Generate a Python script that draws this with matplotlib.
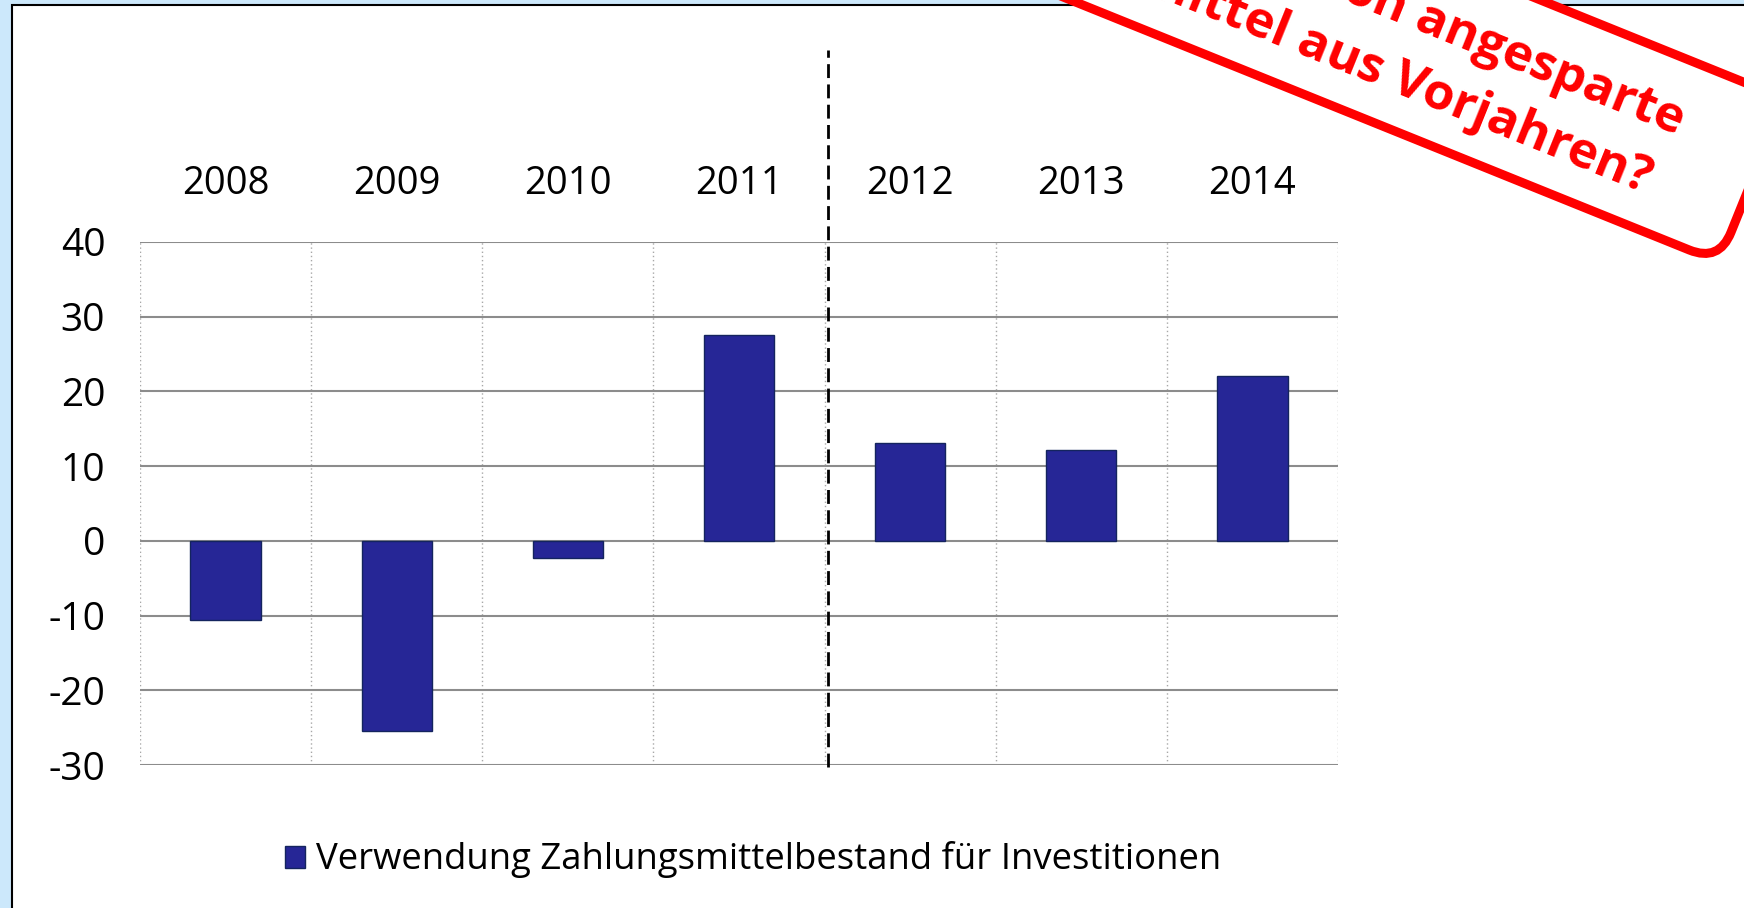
import matplotlib
matplotlib.use("Agg")
import matplotlib.pyplot as plt
from matplotlib.patches import Rectangle, FancyBboxPatch
from matplotlib.transforms import Affine2D

# ---- data ----
years = ["2008", "2009", "2010", "2011", "2012", "2013", "2014"]
values = [-10.6, -25.5, -2.3, 27.6, 13.1, 12.1, 22.0]
y_ticks = [-30, -20, -10, 0, 10, 20, 30, 40]
legend_label = "Verwendung Zahlungsmittelbestand für Investitionen"
stamp_lines = ["Verwendung von angesparte", "Mittel aus Vorjahren?"]

plt.rcParams["font.family"] = ["Open Sans", "DejaVu Sans"]
plt.rcParams["axes.unicode_minus"] = False

W, H = 1744, 908
fig = plt.figure(figsize=(W / 100, H / 100), dpi=100, facecolor="#cce8fb")

# white panel with black border
panel = Rectangle((12 / W, -0.1), 1.2, 0.1 + 903 / H, transform=fig.transFigure,
                  facecolor="white", edgecolor="black", lw=1.5, zorder=-5)
fig.add_artist(panel)

ax = fig.add_axes([140 / W, (H - 765) / H, 1198 / W, 523 / H])
ax.set_facecolor("none")
x = list(range(len(years)))
ax.bar(x, values, width=0.41, color="#262696", edgecolor="#14245e", linewidth=1.0,
       zorder=3, label=legend_label)
ax.set_xlim(-0.5, len(years) - 0.5)
ax.set_ylim(y_ticks[0], y_ticks[-1])
ax.set_yticks(y_ticks)
ax.set_yticklabels([str(t) for t in y_ticks])
ax.set_xticks(x)
ax.set_xticklabels(years)
ax.xaxis.tick_top()
ax.set_xticks([i - 0.5 for i in range(len(years) + 1)], minor=True)
ax.tick_params(axis="x", which="both", length=0, pad=28, labelsize=27.5, colors="black")
ax.tick_params(axis="y", length=0, pad=25, labelsize=28)
for s in ax.spines.values():
    s.set_visible(False)
ax.set_axisbelow(True)
ax.yaxis.grid(True, color="#8c8c8c", lw=1.5)
ax.xaxis.grid(False, which="major")
ax.xaxis.grid(True, which="minor", color="#a8a8a8", lw=1.0, linestyle=(0, (1, 2)))

# dashed separator between 2011 and 2012
ax.axvline(3.52, ymin=-0.004, ymax=1.367, color="black", lw=2.0,
           linestyle=(0, (5, 2.3)), clip_on=False, zorder=4)

leg = ax.legend(loc="center left", bbox_to_anchor=(285 / W, (H - 860) / H),
                bbox_transform=fig.transFigure, frameon=False, fontsize=26.3,
                handlelength=0.55, handleheight=0.55, handletextpad=0.3,
                borderpad=0, borderaxespad=0)

# red stamp
cx, cy = 1719, 646
bw, bh = 900, 176
ang = -22
rot = Affine2D().rotate_deg_around(cx, cy, ang)
stamp = FancyBboxPatch((cx - bw, cy), bw, bh,
                       boxstyle="round,pad=0,rounding_size=32",
                       transform=rot, facecolor="white", edgecolor="#ff0000",
                       lw=6.5, zorder=20)
fig.add_artist(stamp)
fig.text(cx - 86, cy + 102, stamp_lines[0], transform=rot, rotation=ang,
         rotation_mode="anchor", ha="right", va="baseline", fontsize=36.5,
         fontweight="bold", color="#ff0000", zorder=21)
fig.text(cx - 95, cy + 36, stamp_lines[1], transform=rot, rotation=ang,
         rotation_mode="anchor", ha="right", va="baseline", fontsize=36.5,
         fontweight="bold", color="#ff0000", zorder=21)

fig.savefig("out.png", dpi=100, facecolor=fig.get_facecolor())
